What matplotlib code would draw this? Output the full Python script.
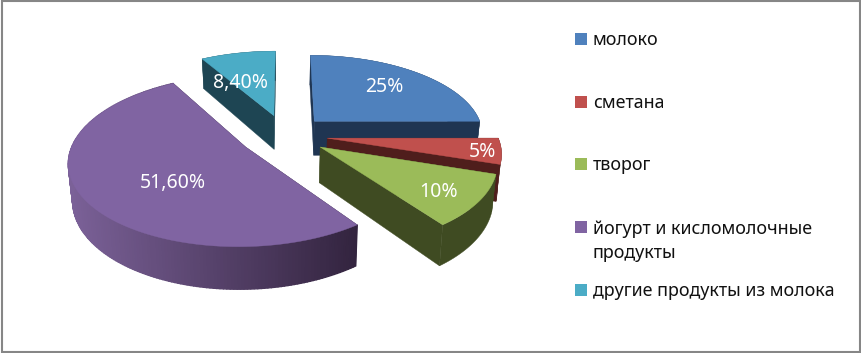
import numpy as np
import matplotlib
matplotlib.use("Agg")
import matplotlib.pyplot as plt
from matplotlib.patches import Polygon, Rectangle

categories = ["молоко", "сметана", "творог",
              "йогурт и кисломолочные\nпродукты", "другие продукты из молока"]
values = [25, 5, 10, 51.6, 8.4]
value_labels = ["25%", "5%", "10%", "51,60%", "8,40%"]

top_colors = ["#4F81BD", "#C0504D", "#9BBB59", "#8064A2", "#4BACC6"]
side_colors = ["#1F3552", "#4F1E1C", "#3F4B22", None, "#1E4553"]
purple_light = np.array([0x7B, 0x61, 0x98]) / 255
purple_dark = np.array([0x33, 0x24, 0x3F]) / 255

# projection of the pie plane on the picture
VX, CY, RX, RY, PERSP = 285.0, 135.0, 170.0, 80.0, 0.155
WALL, BASE_SHRINK = 35.0, 0.98
EXPLODE = [0.25, 0.25, 0.25, 0.27, 0.26]
LABEL_R = [0.62, 0.80, 0.68, 0.45, 0.62]
LABEL_DX = [4, 17, 14, -3, -10]
LABEL_DY = [-3, 4, 9, 14, 8]
draw_order = [4, 0, 3, 1, 2]


def project(wx, wy, lower=False):
    s = 1.0 / (1.0 + PERSP * wy)
    x = wx * RX * s
    y = CY - wy * RY * s
    if lower:
        return VX + x * BASE_SHRINK, y + WALL * s
    return VX + x, y


fig = plt.figure(figsize=(8.61, 3.53), dpi=100)
ax = fig.add_axes([0, 0, 1, 1])
ax.set_xlim(0, 861)
ax.set_ylim(353, 0)
ax.axis("off")
fig.patch.set_facecolor("white")

# frame
ax.add_patch(Rectangle((2, 1), 858, 351.3, fill=False, ec="#868686", lw=1.5))

fractions = np.array(values) / sum(values)
ends = 90 - 360 * np.cumsum(fractions)
starts = np.concatenate([[90.0], ends[:-1]])


def blend(t):
    return tuple(purple_dark + (purple_light - purple_dark) * t)


for i in draw_order:
    a0, a1 = np.radians(starts[i]), np.radians(ends[i])
    mid = (a0 + a1) / 2
    ox, oy = EXPLODE[i] * np.cos(mid), EXPLODE[i] * np.sin(mid)
    th = np.linspace(a0, a1, max(8, int(abs(a1 - a0) * 60)))
    wx = ox + np.cos(th)
    wy = oy + np.sin(th)
    side = side_colors[i]

    # radial walls
    for k in (0, -1):
        quad = [project(ox, oy), project(wx[k], wy[k]),
                project(wx[k], wy[k], True), project(ox, oy, True)]
        c = side if side else purple_dark
        ax.add_patch(Polygon(quad, closed=True, fc=c, ec=c, lw=0.3, zorder=2))

    # outer wall
    up = [project(a, b) for a, b in zip(wx, wy)]
    lo = [project(a, b, True) for a, b in zip(wx, wy)]
    if side:
        ax.add_patch(Polygon(up + lo[::-1], closed=True, fc=side, ec=side, lw=0.3, zorder=2))
    else:
        xmin, xmax = min(p[0] for p in up), max(p[0] for p in up)
        for j in range(len(th) - 1):
            c = blend((xmax - up[j][0]) / (xmax - xmin))
            ax.add_patch(Polygon([up[j], up[j + 1], lo[j + 1], lo[j]], closed=True,
                                 fc=c, ec=c, lw=1.0, zorder=2))

    # top face
    top = [project(ox, oy)] + up
    ax.add_patch(Polygon(top, closed=True, fc=top_colors[i], ec=top_colors[i], lw=0.3, zorder=2))

    # value label
    lx, ly = project(ox + LABEL_R[i] * np.cos(mid), oy + LABEL_R[i] * np.sin(mid))
    ax.text(lx + LABEL_DX[i], ly + LABEL_DY[i], value_labels[i], color="white", fontsize=14,
            family="Noto Sans", ha="center", va="center", zorder=5)

# legend
legend_y = [39, 102, 164, 227, 290]
LINE_GAP = 25
for name, col, y in zip(categories, top_colors, legend_y):
    ax.add_patch(Rectangle((575, y - 6), 12, 12, fc=col, ec="none"))
    ax.text(593, y + 6 + LINE_GAP * name.count("\n"), name, fontsize=12.9, family="Noto Sans",
            color="#111111", ha="left", va="baseline", linespacing=1.4)

fig.savefig("out.png", dpi=100)
